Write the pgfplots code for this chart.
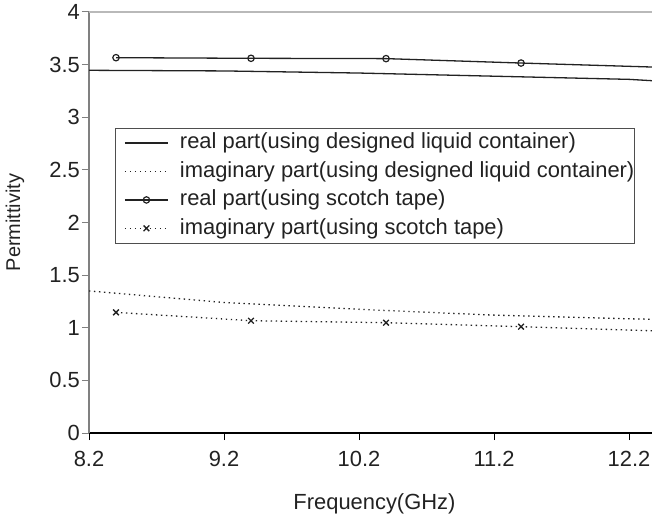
\documentclass[border=0pt]{standalone}
\usepackage{pgfplots}
\pgfplotsset{compat=1.18}
\usepackage{fontspec}
\setmainfont{Liberation Sans}

\definecolor{ink}{HTML}{222222}
\definecolor{axgray}{HTML}{808080}

\begin{document}
\begin{tikzpicture}
\useasboundingbox (0,0) rectangle (652bp,519bp);
\begin{axis}[
    at={(89bp,86bp)}, anchor=south west,
    scale only axis,
    width=563bp, height=421bp,
    xmin=8.2, xmax=12.37,
    ymin=0, ymax=4,
    axis x line=bottom, axis y line=left,
    axis line style={-},
    x axis line style={black, line width=1.1bp},
    y axis line style={axgray, line width=1.1bp},
    xtick={8.2,9.2,10.2,11.2,12.2},
    ytick={0,0.5,1,1.5,2,2.5,3,3.5,4},
    tick align=outside,
    major tick length=7bp,
    xtick style={black, line width=1bp},
    ytick style={axgray, line width=1bp},
    /pgf/number format/assume math mode=true,
    /pgf/number format/fixed,
    tick label style={font=\fontsize{22}{26}\selectfont, text=ink},
    xticklabel style={yshift=-8bp},
    yticklabel style={inner xsep=2bp},
    extra y ticks={4},
    extra y tick labels={},
    extra y tick style={grid=major, major grid style={gray!55, line width=1.1bp}},
    xlabel={Frequency(GHz)},
    ylabel={Permittivity},
    xlabel style={at={(axis description cs:0.507,0)}, anchor=center, yshift=-71bp,
        font=\fontsize{22}{26}\selectfont, text=ink},
    ylabel style={at={(axis description cs:-0.1314,0.5)}, anchor=center,
        font=\fontsize{20}{24}\selectfont, text=ink},
    legend cell align=left,
    legend image code/.code={
        \path[draw=none] (0bp,0bp) -- (64bp,0bp);
        \draw[mark repeat=2, mark phase=2, #1] plot coordinates {(9bp,0bp) (30.5bp,0bp) (52bp,0bp)};
    },
    legend style={
        at={(axis description cs:0.0462,0.7245)}, anchor=north west,
        draw=ink!80, line width=0.9bp,
        inner sep=0.5bp,
        font=\fontsize{22}{26}\selectfont, text=ink,
        nodes={inner xsep=0bp, inner ysep=3.9bp, text height=16bp, text depth=4.6bp},
        row sep=0bp, column sep=0bp,
    },
]
% real part, designed liquid container
\addplot[ink, line width=1.3bp] coordinates {
    (8.2,3.446) (9.2,3.44) (10.2,3.42) (11.2,3.39) (12.2,3.36) (12.4,3.345)
};
% imaginary part, designed liquid container
\addplot[ink, line width=1.3bp, dash pattern=on 1.4bp off 3.6bp] coordinates {
    (8.2,1.35) (9.2,1.24) (10.2,1.175) (11.2,1.12) (12.2,1.085) (12.4,1.08)
};
% real part, scotch tape
\addplot[ink, line width=1.3bp, mark=o, mark size=3.2bp,
    mark options={solid, line width=1.2bp}] coordinates {
    (8.4,3.566) (9.4,3.56) (10.4,3.557) (11.4,3.515) (12.4,3.476)
};
% imaginary part, scotch tape
\addplot[ink, line width=1.3bp, dash pattern=on 1.4bp off 3.6bp, mark=x, mark size=4bp,
    mark options={solid, line width=1.3bp}] coordinates {
    (8.4,1.146) (9.4,1.067) (10.4,1.048) (11.4,1.01) (12.4,0.97)
};
\legend{real part(using designed liquid container),
        imaginary part(using designed liquid container),
        real part(using scotch tape),
        imaginary part(using scotch tape)}
\end{axis}
\end{tikzpicture}
\end{document}
